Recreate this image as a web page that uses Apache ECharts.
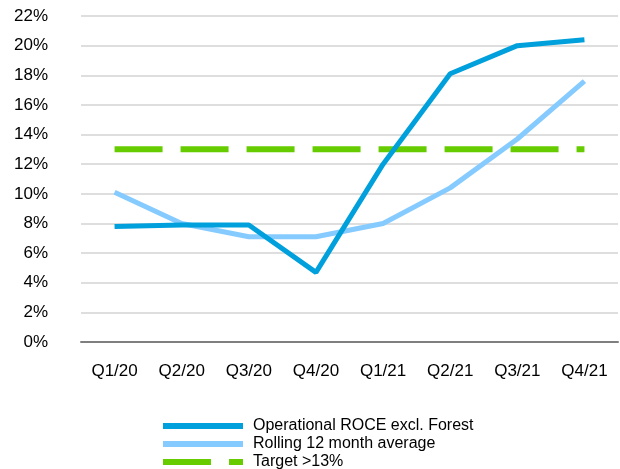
<!DOCTYPE html>
<html><head><meta charset="utf-8">
<script src="https://cdn.jsdelivr.net/npm/echarts@6/dist/echarts.min.js"></script>
<style>html,body{margin:0;padding:0;background:#fff}#c{width:620px;height:469px}</style>
</head><body><div id="c"></div>
<script>
const categories = ['Q1/20','Q2/20','Q3/20','Q4/20','Q1/21','Q2/21','Q3/21','Q4/21'];
const roce = [7.8, 7.9, 7.9, 4.7, 12.0, 18.1, 20.0, 20.4];
const rolling = [10.1, 8.0, 7.1, 7.1, 8.0, 10.4, 13.7, 17.6];
const target = [13, 13, 13, 13, 13, 13, 13, 13];
const names = ['Operational ROCE excl. Forest', 'Rolling 12 month average', 'Target >13%'];

const chart = echarts.init(document.getElementById('c'));
const font = 'Liberation Sans, Arial, sans-serif';
chart.setOption({
  animation: false,
  textStyle: { fontFamily: font },
  grid: { left: 81, right: 2, top: 16, bottom: 127 },
  xAxis: {
    type: 'category', data: categories, boundaryGap: true,
    axisLine: { lineStyle: { color: '#7f7f7f', width: 2 } },
    axisTick: { show: false },
    axisLabel: { color: '#000', fontSize: 17, margin: 21, fontFamily: font }
  },
  yAxis: {
    type: 'value', min: 0, max: 22, interval: 2,
    axisLine: { show: false }, axisTick: { show: false },
    axisLabel: { formatter: '{value}%', color: '#000', fontSize: 17, margin: 33, fontFamily: font },
    splitLine: { lineStyle: { color: '#dedede', width: 2 } }
  },
  legend: {
    orient: 'vertical', left: 163, top: 418, height: 56, padding: 0,
    itemWidth: 80, itemHeight: 6, itemGap: 2,
    textStyle: { color: '#000', fontSize: 16, lineHeight: 16, fontFamily: font, padding: [0, 0, 0, 5] },
    data: [
      { name: names[0], icon: 'rect' },
      { name: names[1], icon: 'rect' },
      { name: names[2], icon: 'path://M0,0H48V6H0Z M66,0H80V6H66Z' }
    ]
  },
  series: [
    { name: names[2], type: 'line', data: target, symbol: 'none', z: 1,
      lineStyle: { color: '#66cc00', width: 6, type: [48, 18], cap: 'butt' }, itemStyle: { color: '#66cc00' } },
    { name: names[1], type: 'line', data: rolling, symbol: 'none', z: 2,
      lineStyle: { color: '#85cbff', width: 5 }, itemStyle: { color: '#85cbff' } },
    { name: names[0], type: 'line', data: roce, symbol: 'none', z: 3,
      lineStyle: { color: '#00a0dc', width: 5 }, itemStyle: { color: '#00a0dc' } }
  ]
});
</script></body></html>
